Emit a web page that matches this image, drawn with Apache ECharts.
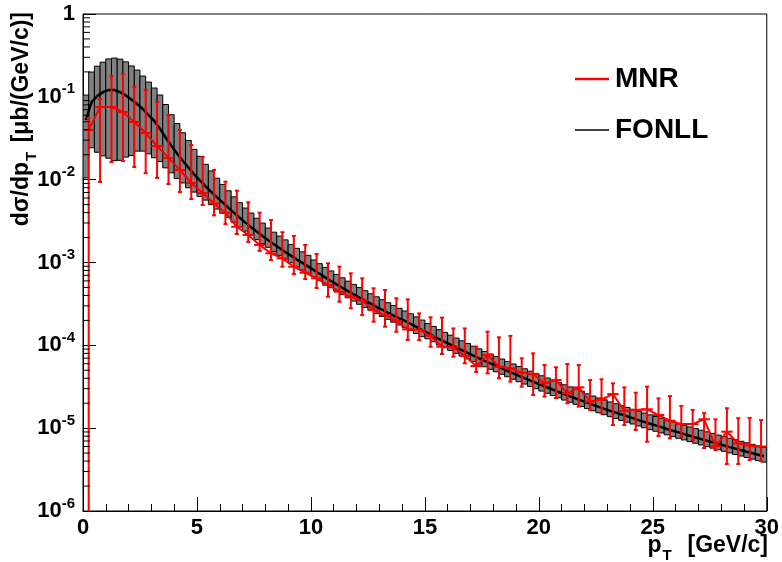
<!DOCTYPE html>
<html><head><meta charset="utf-8">
<script src="https://cdn.jsdelivr.net/npm/echarts@6/dist/echarts.min.js"></script>
<style>html,body{margin:0;padding:0;background:#fff}#c{width:782px;height:562px}</style>
</head><body><div id="c"></div>
<script>
// ---------------- DATA ----------------
// MNR: 0.5 GeV/c bins (centres), central value, upper and lower error-bar ends
const mnrPt = [0.25,0.75,1.25,1.75,2.25,2.75,3.25,3.75,4.25,4.75,5.25,5.75,6.25,6.75,7.25,7.75,8.25,8.75,9.25,9.75,
  10.25,10.75,11.25,11.75,12.25,12.75,13.25,13.75,14.25,14.75,15.25,15.75,16.25,16.75,17.25,17.75,18.25,18.75,19.25,19.75,
  20.25,20.75,21.25,21.75,22.25,22.75,23.25,23.75,24.25,24.75,25.25,25.75,26.25,26.75,27.25,27.75,28.25,28.75,29.25,29.75];
const mnrHalfWidth = 0.25;
const mnrVal = [0.0398,0.0754,0.0754,0.0656,0.0497,0.0366,0.0255,0.0183,0.0131,0.00912,
  0.0069,0.00518,0.00399,0.0027,0.00215,0.00163,0.00129,0.00112,0.000889,0.000753,
  0.000644,0.000535,0.000444,0.000386,0.000346,0.000267,0.000232,0.000198,0.000156,0.000153,
  0.00013,9.62e-5,9.46e-5,7.43e-5,5.63e-5,7.64e-5,5.52e-5,5.28e-5,4.67e-5,4.47e-5,
  3.48e-5,3.81e-5,2.63e-5,3.11e-5,2.09e-5,2.23e-5,2.58e-5,1.62e-5,1.66e-5,1.69e-5,
  1.44e-5,1.23e-5,1.12e-5,1.12e-5,1.28e-5,6.09e-6,9.06e-6,6.53e-6,6.17e-6,6.0e-6];
const mnrHigh = [0.0555,0.0941,0.178,0.189,0.131,0.121,0.0866,0.0603,0.0398,0.0262,
  0.0188,0.0131,0.00945,0.00736,0.00533,0.00399,0.00326,0.00232,0.00209,0.00163,
  0.00127,0.000977,0.000889,0.00074,0.000644,0.000488,0.000465,0.00037,0.000359,0.000243,
  0.000218,0.000216,0.00016,0.00016,9.62e-5,0.000146,0.000125,0.00013,6.97e-5,8.01e-5,
  5.79e-5,5.43e-5,5.95e-5,5.79e-5,3.81e-5,3.89e-5,3.48e-5,3.11e-5,2.68e-5,3.17e-5,
  2.29e-5,2.44e-5,1.85e-5,1.66e-5,1.52e-5,1.28e-5,1.74e-5,1.32e-5,1.33e-5,1.25e-5];
const mnrLow = [1e-9,0.00937,0.0163,0.0168,0.0142,0.012,0.0105,0.00886,0.0071,0.00584,
  0.00494,0.00371,0.00291,0.00221,0.00177,0.00138,0.00107,0.000889,0.000726,0.000632,
  0.000492,0.000386,0.000336,0.00028,0.000232,0.000193,0.000168,0.000146,0.000116,0.000116,
  9.62e-5,7.86e-5,7.29e-5,6.07e-5,4.76e-5,4.59e-5,4.0e-5,3.64e-5,3.17e-5,2.51e-5,
  2.4e-5,2.31e-5,2.0e-5,1.82e-5,1.66e-5,1.51e-5,1.09e-5,1.09e-5,9.5e-6,6.86e-6,
  8.04e-6,7.54e-6,7.88e-6,7.19e-6,5.76e-6,5.45e-6,3.69e-6,3.69e-6,4.12e-6,4.01e-6];

// FONLL: 0.25 GeV/c bins (centres), central value, relative upper / lower uncertainty
const fonllPt = [0.125,0.375,0.625,0.875,1.125,1.375,1.625,1.875,2.125,2.375,
  2.625,2.875,3.125,3.375,3.625,3.875,4.125,4.375,4.625,4.875,
  5.125,5.375,5.625,5.875,6.125,6.375,6.625,6.875,7.125,7.375,
  7.625,7.875,8.125,8.375,8.625,8.875,9.125,9.375,9.625,9.875,
  10.125,10.375,10.625,10.875,11.125,11.375,11.625,11.875,12.125,12.375,
  12.625,12.875,13.125,13.375,13.625,13.875,14.125,14.375,14.625,14.875,
  15.125,15.375,15.625,15.875,16.125,16.375,16.625,16.875,17.125,17.375,
  17.625,17.875,18.125,18.375,18.625,18.875,19.125,19.375,19.625,19.875,
  20.125,20.375,20.625,20.875,21.125,21.375,21.625,21.875,22.125,22.375,
  22.625,22.875,23.125,23.375,23.625,23.875,24.125,24.375,24.625,24.875,
  25.125,25.375,25.625,25.875,26.125,26.375,26.625,26.875,27.125,27.375,
  27.625,27.875,28.125,28.375,28.625,28.875,29.125,29.375,29.625,29.875];
const fonllHalfWidth = 0.125;
const fonllVal = [0.0525,0.0866,0.102,0.114,0.121,0.121,0.114,0.104,0.0929,0.0819,
  0.0713,0.0603,0.0511,0.0413,0.0323,0.0257,0.0207,0.0169,0.0140,0.0116,
  0.00981,0.00833,0.00712,0.00613,0.00531,0.00459,0.00398,0.00347,0.00303,0.00267,
  0.00236,0.00209,0.00186,0.00166,0.00149,0.00134,0.00121,0.00109,0.000988,0.000898,
  0.000813,0.000733,0.000662,0.000599,0.000544,0.000495,0.000451,0.000412,0.000377,0.000346,
  0.000318,0.000292,0.000269,0.000248,0.000229,0.000212,0.000197,0.000182,0.000167,0.000153,
  0.000141,0.000130,0.000119,0.000110,0.000102,9.42e-5,8.73e-5,8.09e-5,7.51e-5,6.98e-5,
  6.49e-5,6.05e-5,5.64e-5,5.26e-5,4.91e-5,4.58e-5,4.28e-5,4.01e-5,3.75e-5,3.52e-5,
  3.30e-5,3.10e-5,2.91e-5,2.73e-5,2.57e-5,2.42e-5,2.28e-5,2.15e-5,2.03e-5,1.91e-5,
  1.81e-5,1.71e-5,1.62e-5,1.54e-5,1.46e-5,1.39e-5,1.32e-5,1.25e-5,1.19e-5,1.13e-5,
  1.08e-5,1.03e-5,9.78e-6,9.32e-6,8.89e-6,8.48e-6,8.09e-6,7.73e-6,7.38e-6,7.06e-6,
  6.75e-6,6.45e-6,6.18e-6,5.91e-6,5.66e-6,5.42e-6,5.20e-6,4.98e-6,4.78e-6,4.58e-6];
const fonllErrUp = [1.00,1.30,1.30,1.30,1.37,1.43,1.50,1.54,1.54,1.57,
  1.50,1.50,1.50,1.55,1.50,1.37,1.30,1.18,1.12,1.00,
  0.95,0.84,0.79,0.70,0.65,0.60,0.56,0.52,0.50,0.48,
  0.45,0.43,0.40,0.40,0.40,0.40,0.36,0.36,0.36,0.36,
  0.32,0.32,0.32,0.32,0.32,0.32,0.32,0.32,0.32,0.32,
  0.32,0.32,0.32,0.32,0.32,0.32,0.32,0.32,0.32,0.32,
  0.30,0.30,0.30,0.30,0.30,0.30,0.30,0.30,0.30,0.30,
  0.30,0.30,0.30,0.30,0.30,0.30,0.30,0.30,0.30,0.30,
  0.30,0.30,0.30,0.30,0.30,0.30,0.30,0.30,0.28,0.28,
  0.28,0.28,0.28,0.28,0.28,0.28,0.28,0.28,0.28,0.28,
  0.28,0.28,0.28,0.28,0.28,0.28,0.28,0.28,0.28,0.28,
  0.28,0.28,0.28,0.28,0.28,0.28,0.28,0.28,0.28,0.28];
const fonllErrDown = [0.80,0.72,0.79,0.83,0.85,0.86,0.85,0.82,0.79,0.73,
  0.69,0.66,0.64,0.60,0.57,0.53,0.50,0.46,0.43,0.39,
  0.36,0.32,0.30,0.28,0.26,0.24,0.23,0.22,0.21,0.20,
  0.20,0.19,0.18,0.18,0.18,0.18,0.18,0.18,0.18,0.18,
  0.17,0.17,0.17,0.17,0.17,0.17,0.17,0.17,0.17,0.17,
  0.17,0.17,0.17,0.17,0.17,0.17,0.17,0.17,0.17,0.17,
  0.15,0.15,0.15,0.15,0.15,0.15,0.15,0.15,0.15,0.15,
  0.15,0.15,0.15,0.15,0.15,0.15,0.15,0.15,0.15,0.15,
  0.15,0.15,0.15,0.15,0.15,0.15,0.15,0.15,0.15,0.15,
  0.15,0.15,0.15,0.15,0.15,0.15,0.15,0.15,0.15,0.15,
  0.15,0.15,0.15,0.15,0.15,0.15,0.15,0.15,0.15,0.15,
  0.15,0.15,0.15,0.15,0.15,0.15,0.15,0.15,0.15,0.15];

// axis ticks / labels
const xTickLabels = ['0','5','10','15','20','25','30'];
const yMinorMult = [2,3,4,5,6,7,8,9];
const yDecades = [-6,-5,-4,-3,-2,-1];
const xTitle = '{b|p}{s|T}{b|  [GeV/c]}';
const yTitle = '{b|d\u03c3/dp}{s|T}{b| [\u03bcb/(GeV/c)]}';
const seriesNames = ['MNR','FONLL'];

// ---------------- CHART ----------------
const FONT = "'Liberation Sans', Arial, Helvetica, sans-serif";
const chart = echarts.init(document.getElementById('c'), null, {renderer:'canvas'});
const yMinorTicks = [];
yDecades.forEach(e => yMinorMult.forEach(m => yMinorTicks.push([0, m * Math.pow(10, e)])));

const titleRich = {
  b: {fontSize: 23, fontWeight: 'bold', fontFamily: FONT, fill: '#000', lineHeight: 34, verticalAlign: 'middle'},
  s: {fontSize: 15, fontWeight: 'bold', fontFamily: FONT, fill: '#000', lineHeight: 15, verticalAlign: 'bottom', padding: [0, 3, 0, 1]}
};

const option = {
  animation: false,
  backgroundColor: '#ffffff',
  grid: {left: 83, right: 14, top: 14, bottom: 51, show: true, borderColor: '#000', borderWidth: 1, backgroundColor: 'transparent'},
  xAxis: {
    type: 'value', min: 0, max: 30, interval: 5,
    axisLine: {onZero: false, lineStyle: {color: '#000', width: 1}},
    axisTick: {inside: true, length: 14, lineStyle: {color: '#000', width: 1}},
    minorTick: {show: true, splitNumber: 5, length: 7, lineStyle: {color: '#000', width: 1}},
    splitLine: {show: false},
    axisLabel: {margin: 6, color: '#000', fontSize: 22, fontWeight: 'bold', fontFamily: FONT,
      showMinLabel: true, showMaxLabel: true,
      formatter: v => xTickLabels[Math.round(v / 5)]}
  },
  yAxis: {
    type: 'log', logBase: 10, min: 1e-6, max: 1,
    axisLine: {show: true, lineStyle: {color: '#000', width: 1}},
    axisTick: {inside: true, length: 13, lineStyle: {color: '#000', width: 1}},
    splitLine: {show: false},
    axisLabel: {
      margin: 8, color: '#000', fontFamily: FONT,
      formatter: v => { const e = Math.round(Math.log10(v)); return e === 0 ? '{b|1}' : '{b|10}{s|' + e + '}'; },
      rich: {
        b: {fontSize: 22, fontWeight: 'bold', fontFamily: FONT, color: '#000', lineHeight: 30, verticalAlign: 'middle'},
        s: {fontSize: 15, fontWeight: 'bold', fontFamily: FONT, color: '#000', lineHeight: 15, verticalAlign: 'top'}
      }
    }
  },
  legend: [
    {data: [seriesNames[0]], left: 570, top: 60, icon: 'rect', itemWidth: 34, itemHeight: 2.5,
      itemStyle: {color: '#ff0000', borderWidth: 0},
      textStyle: {fontSize: 28, fontWeight: 'bold', fontFamily: FONT, color: '#000', padding: [0,0,0,1]}},
    {data: [seriesNames[1]], left: 570, top: 111, icon: 'rect', itemWidth: 34, itemHeight: 1.5,
      itemStyle: {color: '#000000', borderWidth: 0},
      textStyle: {fontSize: 28, fontWeight: 'bold', fontFamily: FONT, color: '#000', padding: [0,0,0,1]}}
  ],
  graphic: [
    {type: 'text', x: 768, y: 546, silent: true,
      style: {text: xTitle, align: 'right', verticalAlign: 'middle', fill: '#000', font: 'bold 23px ' + FONT, rich: titleRich}},
    {type: 'text', x: 22, y: 12, rotation: Math.PI / 2, silent: true,
      style: {text: yTitle, align: 'right', verticalAlign: 'middle', fill: '#000', font: 'bold 23px ' + FONT, rich: titleRich}}
  ],
  series: [
    {
      type: 'custom', name: 'FONLL band', z: 1, clip: true, silent: true,
      data: fonllPt.map((x, i) => [x, fonllVal[i] * (1 + fonllErrUp[i]), fonllVal[i] * (1 - fonllErrDown[i])]),
      renderItem: (params, api) => {
        const x = api.value(0), hi = api.value(1), lo = api.value(2);
        const p1 = api.coord([x - fonllHalfWidth, hi]);
        const p2 = api.coord([x + fonllHalfWidth, lo]);
        return {type: 'rect', shape: {x: p1[0], y: p1[1], width: p2[0] - p1[0], height: p2[1] - p1[1]},
          style: {fill: '#808080', stroke: '#000', lineWidth: 1}};
      }
    },
    {
      type: 'line', name: seriesNames[1], z: 2, showSymbol: false, color: '#000',
      lineStyle: {color: '#000', width: 2.5},
      data: fonllPt.map((x, i) => [x, fonllVal[i]])
    },
    {
      type: 'custom', name: 'MNR errors', z: 3, clip: true, silent: true,
      data: mnrPt.map((x, i) => [x, mnrVal[i], mnrHigh[i], mnrLow[i]]),
      renderItem: (params, api) => {
        const x = api.value(0), v = api.value(1), hi = api.value(2), lo = api.value(3);
        const t = api.coord([x, hi]), b = api.coord([x, lo]);
        const l = api.coord([x - mnrHalfWidth, v]), r = api.coord([x + mnrHalfWidth, v]);
        const st = {stroke: '#ff0000', lineWidth: 2};
        return {type: 'group', children: [
          {type: 'line', shape: {x1: t[0], y1: t[1], x2: b[0], y2: b[1]}, style: st},
          {type: 'line', shape: {x1: l[0], y1: l[1], x2: r[0], y2: r[1]}, style: st},
          {type: 'line', shape: {x1: t[0] - 2, y1: t[1], x2: t[0] + 2, y2: t[1]}, style: st},
          {type: 'line', shape: {x1: b[0] - 2, y1: b[1], x2: b[0] + 2, y2: b[1]}, style: st}
        ]};
      }
    },
    {
      type: 'line', name: seriesNames[0], z: 4, showSymbol: false, color: '#ff0000',
      lineStyle: {color: '#ff0000', width: 2},
      data: mnrPt.map((x, i) => [x, mnrVal[i]])
    },
    {
      type: 'custom', name: 'y minor ticks', z: 5, silent: true, clip: false,
      data: yMinorTicks,
      renderItem: (params, api) => {
        const p = api.coord([0, api.value(1)]);
        return {type: 'line', shape: {x1: p[0], y1: p[1], x2: p[0] + 7, y2: p[1]}, style: {stroke: '#000', lineWidth: 1}};
      }
    }
  ]
};
chart.setOption(option);
</script>
</body></html>
